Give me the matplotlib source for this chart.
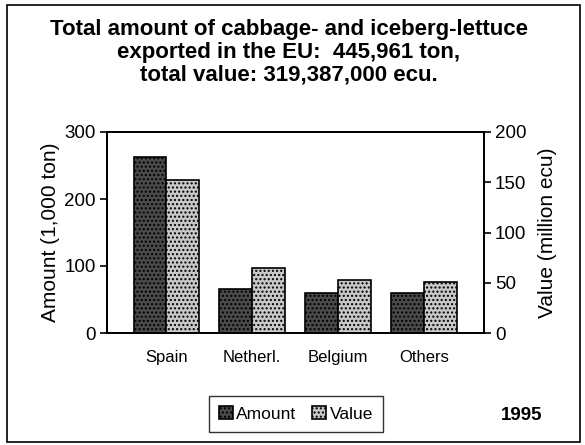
import numpy as np
import matplotlib.pyplot as plt
from matplotlib.patches import Rectangle

# values
countries = ['Spain', 'Netherl.', 'Belgium', 'Others']
amount = [262, 66, 59, 59]      # 1,000 ton
value = [152, 65, 53, 51]       # million ecu
title = ('Total amount of cabbage- and iceberg-lettuce\n'
         'exported in the EU:  445,961 ton,\n'
         'total value: 319,387,000 ecu.')

plt.rcParams['font.family'] = ['Liberation Sans', 'DejaVu Sans']
plt.rcParams['hatch.color'] = '#808080'

fig = plt.figure(figsize=(5.85, 4.45), dpi=100)
ax = fig.add_axes([107/585, 1-333/445, 377/585, 201/445])
ax2 = ax.twinx()

x = np.arange(len(countries))
w = 0.38
b1 = ax.bar(x - w/2, amount, w, color='#4a4a4a', edgecolor='black', linewidth=1.2,
            hatch='....', label='Amount')
b2 = ax2.bar(x + w/2, value, w, color='#c8c8c8', edgecolor='black', linewidth=1.2,
             hatch='....', label='Value')

ax.set_xlim(-0.69, 3.70)
ax.set_ylim(0, 300)
ax2.set_ylim(0, 200)
ax.set_yticks([0, 100, 200, 300])
ax2.set_yticks([0, 50, 100, 150, 200])
ax.set_xticks(x)
ax.set_xticklabels(countries, fontsize=12)
ax.tick_params(axis='x', length=0, pad=12)
ax.tick_params(axis='y', labelsize=13.5, width=1.2, length=5, pad=3)
ax2.tick_params(axis='y', labelsize=13.5, width=1.2, length=5, pad=3)
for a in (ax, ax2):
    for s in a.spines.values():
        s.set_linewidth(1.3)

ax.set_ylabel('Amount (1,000 ton)', fontsize=15, labelpad=3)
ax2.set_ylabel('Value (million ecu)', fontsize=15, labelpad=8)

fig.text(0.494, 1-19/445, title, ha='center', va='top', fontsize=16,
         fontweight='bold', linespacing=1.1)

leg = fig.legend([b1, b2], ['Amount', 'Value'], loc='center',
                 bbox_to_anchor=(296/585, 1-414/445), ncol=2, fontsize=12.5,
                 frameon=True, fancybox=False, edgecolor='black',
                 handlelength=0.8, handleheight=0.8, handletextpad=0.2,
                 columnspacing=0.9, borderpad=0.6, borderaxespad=0)
leg.get_frame().set_linewidth(1.0)

fig.text(522/585, 1-415/445, '1995', ha='center', va='center', fontsize=13.5,
         fontweight='bold')

fig.patches.append(Rectangle((7/585, 3/445), 573/585, 437/445, transform=fig.transFigure,
                             fill=False, edgecolor='black', linewidth=1.2))

fig.savefig('out.png', dpi=100)
